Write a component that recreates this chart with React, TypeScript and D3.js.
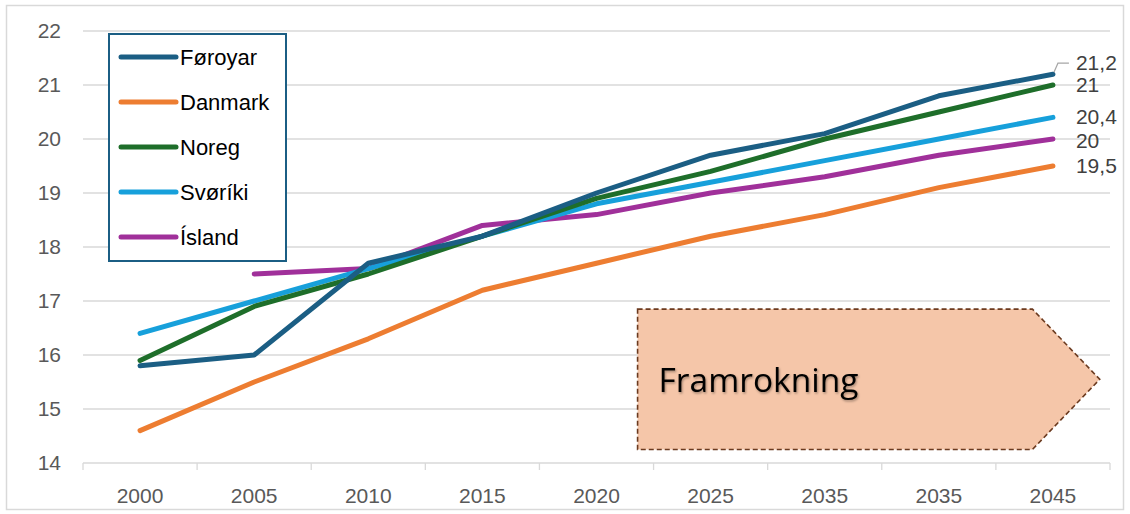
import React, { useEffect, useRef } from "react";
import * as d3 from "d3";

// Data
const years = ["2000", "2005", "2010", "2015", "2020", "2025", "2035", "2035", "2045"];
const seriesNames = ["Føroyar", "Danmark", "Noreg", "Svøríki", "Ísland"];
const foroyar = [15.8, 16.0, 17.7, 18.2, 19.0, 19.7, 20.1, 20.8, 21.2];
const danmark = [14.6, 15.5, 16.3, 17.2, 17.7, 18.2, 18.6, 19.1, 19.5];
const noreg = [15.9, 16.9, 17.5, 18.2, 18.9, 19.4, 20.0, 20.5, 21.0];
const sverige = [16.4, 17.0, 17.6, 18.2, 18.8, 19.2, 19.6, 20.0, 20.4];
const island = [null, 17.5, 17.6, 18.4, 18.6, 19.0, 19.3, 19.7, 20.0];
const endLabels = ["21,2", "19,5", "21", "20,4", "20"];
const yTicks = [14, 15, 16, 17, 18, 19, 20, 21, 22];
const colors = ["#1b5e84", "#ed7d31", "#1e6e2a", "#17a0db", "#a0309a"];

const W = 1130;
const H = 514;
const FONT = "'Liberation Sans', Arial, sans-serif";

const App = () => {
  const svgRef = useRef(null);

  useEffect(() => {
    const svg = d3.select(svgRef.current);
    svg.selectAll("*").remove();

    const margin = { top: 31, right: 20, bottom: 51, left: 83 };
    const innerW = 1110 - margin.left;
    const innerH = 463 - margin.top;

    // outer chart border
    svg
      .append("rect")
      .attr("x", 6.5)
      .attr("y", 5.5)
      .attr("width", W - 13)
      .attr("height", H - 10)
      .attr("fill", "#fff")
      .attr("stroke", "#d9d9d9")
      .attr("stroke-width", 1.5);

    const g = svg.append("g").attr("transform", `translate(${margin.left},${margin.top})`);

    const x = d3
      .scaleBand()
      .domain(years.map((_, i) => String(i)))
      .range([0, innerW]);
    const y = d3.scaleLinear().domain([14, 22]).range([innerH, 0]);
    const cx = (i) => x(String(i)) + x.bandwidth() / 2;

    // gridlines
    g.selectAll(".grid")
      .data(yTicks)
      .enter()
      .append("line")
      .attr("x1", 0)
      .attr("x2", innerW)
      .attr("y1", (d) => y(d))
      .attr("y2", (d) => y(d))
      .attr("stroke", "#d9d9d9")
      .attr("stroke-width", 1.3);

    // y labels
    g.selectAll(".ylab")
      .data(yTicks)
      .enter()
      .append("text")
      .attr("x", -22)
      .attr("y", (d) => y(d))
      .attr("dy", "0.35em")
      .attr("text-anchor", "end")
      .attr("font-family", FONT)
      .attr("font-size", 21)
      .attr("fill", "#595959")
      .text((d) => d);

    // x tick marks at band boundaries
    const bounds = d3.range(years.length + 1).map((i) => i * x.bandwidth());
    g.selectAll(".xtick")
      .data(bounds)
      .enter()
      .append("line")
      .attr("x1", (d) => d)
      .attr("x2", (d) => d)
      .attr("y1", innerH)
      .attr("y2", innerH + 7)
      .attr("stroke", "#d9d9d9")
      .attr("stroke-width", 1.3);

    g.selectAll(".xlab")
      .data(years)
      .enter()
      .append("text")
      .attr("x", (_, i) => cx(i))
      .attr("y", innerH + 40)
      .attr("text-anchor", "middle")
      .attr("font-family", FONT)
      .attr("font-size", 21)
      .attr("fill", "#595959")
      .text((d) => d);

    // Framrokning arrow annotation
    const bw = x.bandwidth();
    const left = cx(4) + bw * 0.36;
    const flat = cx(8) - bw * 0.18;
    const tip = cx(8) + bw * 0.41;
    const top = y(16.85);
    const bottom = y(14.25);
    const mid = (top + bottom) / 2;
    g.append("path")
      .attr(
        "d",
        `M${left},${top}L${flat},${top}L${tip},${mid}L${flat},${bottom}L${left},${bottom}Z`
      )
      .attr("fill", "#f5c6a9")
      .attr("stroke", "#6b3a1f")
      .attr("stroke-width", 1.6)
      .attr("stroke-dasharray", "5,3");

    const defs = svg.append("defs");
    const filt = defs.append("filter").attr("id", "shadow").attr("x", "-5%").attr("y", "-20%").attr("width", "120%").attr("height", "150%");
    filt.append("feDropShadow").attr("dx", 1).attr("dy", 1.5).attr("stdDeviation", 1).attr("flood-color", "#000").attr("flood-opacity", 0.35);

    g.append("text")
      .attr("x", left + 21)
      .attr("y", mid + 1)
      .attr("dy", "0.35em")
      .attr("font-family", "'Open Sans', 'Liberation Sans', sans-serif")
      .attr("font-size", 33.5)
      .attr("fill", "#000")
      .attr("filter", "url(#shadow)")
      .text("Framrokning");

    // lines
    const allSeries = [foroyar, danmark, noreg, sverige, island];
    const line = d3
      .line()
      .defined((d) => d != null)
      .x((_, i) => cx(i))
      .y((d) => y(d));

    // draw in an order that keeps Føroyar on top as in the reference
    const order = [1, 4, 3, 2, 0];
    order.forEach((k) => {
      g.append("path")
        .datum(allSeries[k])
        .attr("d", line)
        .attr("fill", "none")
        .attr("stroke", colors[k])
        .attr("stroke-width", 5)
        .attr("stroke-linecap", "round")
        .attr("stroke-linejoin", "round");
    });

    // end labels (small nudges keep 20,4 and 20 apart)
    const last = years.length - 1;
    const labelOffsets = [-12, 0, 0, -1, 2];
    allSeries.forEach((s, k) => {
      g.append("text")
        .attr("x", cx(last) + 23)
        .attr("y", y(s[last]) + labelOffsets[k])
        .attr("dy", "0.35em")
        .attr("font-family", FONT)
        .attr("font-size", 21)
        .attr("fill", "#404040")
        .text(endLabels[k]);
    });
    // leader line for 21,2
    g.append("path")
      .attr(
        "d",
        `M${cx(last) + 1},${y(foroyar[last]) - 2}L${cx(last) + 5},${y(foroyar[last]) - 11}L${cx(last) + 16},${y(foroyar[last]) - 11}`
      )
      .attr("fill", "none")
      .attr("stroke", "#a6a6a6")
      .attr("stroke-width", 1.2);

    // legend
    const lg = svg.append("g").attr("transform", "translate(109,34)");
    lg.append("rect")
      .attr("width", 177)
      .attr("height", 227)
      .attr("fill", "#fff")
      .attr("stroke", "#1b5e84")
      .attr("stroke-width", 2);
    seriesNames.forEach((name, k) => {
      const ly = 23 + k * 45;
      lg.append("line")
        .attr("x1", 12)
        .attr("x2", 67)
        .attr("y1", ly)
        .attr("y2", ly)
        .attr("stroke", colors[k])
        .attr("stroke-width", 5)
        .attr("stroke-linecap", "round");
      lg.append("text")
        .attr("x", 71)
        .attr("y", ly)
        .attr("dy", "0.35em")
        .attr("font-family", FONT)
        .attr("font-size", 22)
        .attr("fill", "#000")
        .text(name);
    });
  }, []);

  return (
    <div style={{ position: "absolute", left: 0, top: 0 }}>
      <svg ref={svgRef} width={W} height={H}></svg>
    </div>
  );
};

export default App;
